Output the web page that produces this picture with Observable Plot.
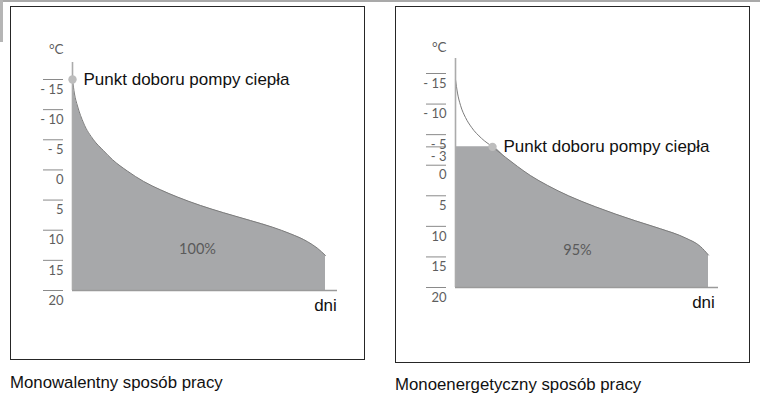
<!DOCTYPE html>
<html>
<head>
<meta charset="utf-8">
<script src="https://cdn.jsdelivr.net/npm/d3@7"></script>
<script src="https://cdn.jsdelivr.net/npm/@observablehq/plot@0.6"></script>
<style>
  html, body { margin: 0; padding: 0; background: #fff; }
  #page { position: relative; width: 760px; height: 397px; overflow: hidden; background: #fff; }
  .box { position: absolute; border: 1.5px solid #262626; box-sizing: border-box; }
  .chart { position: absolute; }
  .caption { position: absolute; font-family: "Liberation Sans", Arial, sans-serif; font-size: 16.8px; color: #111; white-space: nowrap; }
  .topline { position: absolute; left: 0; top: 0; width: 760px; height: 2px; background: #a9a9a9; }
  .leftbar { position: absolute; left: 0; top: 0; width: 3px; height: 42px; background: #b5b5b5; }
</style>
</head>
<body>
<div id="page">
  <div class="topline"></div>
  <div class="leftbar"></div>
  <div class="box" style="left:10px; top:6px; width:355px; height:354px;"></div>
  <div class="box" style="left:395px; top:6px; width:355px; height:357px;"></div>
  <div id="c1" class="chart" style="left:10px; top:6px;"></div>
  <div id="c2" class="chart" style="left:395px; top:6px;"></div>
  <div id="cap1" class="caption" style="left:10px; top:373px;"></div>
  <div id="cap2" class="caption" style="left:395px; top:375px;"></div>
</div>
<script>
// ---- data ----
const leftTicks = [-15, -10, -5, 0, 5, 10, 15, 20];
const rightTicks = [-15, -10, -5, -3, 0, 5, 10, 15, 20];

// left panel: monovalent - annual temperature duration curve
const leftDays = [0, 2, 5, 11, 21, 31, 40, 55, 71, 88, 105, 128, 151, 178, 200, 218, 235, 245, 253];
const leftTemps = [-15, -12.6, -10.6, -7.8, -5.0, -3.2, -1.7, 0.2, 1.9, 3.3, 4.5, 5.9, 7.1, 8.4, 9.5, 10.6, 11.9, 13.0, 14.2];

// right panel: monoenergetic - heat pump covers the load down to -3 °C
const rightDays = [0, 2, 5, 10, 16, 26, 37, 50, 62, 75, 92, 113, 140, 180, 205, 230, 245, 253];
const rightTemps = [-14.0, -11.8, -9.8, -7.8, -6.2, -4.4, -3.0, -1.3, 0.2, 1.7, 3.3, 5.0, 6.8, 9.1, 10.4, 11.9, 13.3, 14.7];
const bivalentTemp = -3;
const bivalentDay = 37;

const pointLabel = "Punkt doboru pompy ciepła";
const shares = ["100%", "95%"];
const xLabel = "dni";
const yLabel = "°C";
const captions = ["Monowalentny sposób pracy", "Monoenergetyczny sposób pracy"];

document.getElementById("cap1").textContent = captions[0];
document.getElementById("cap2").textContent = captions[1];

const fmt = d => d < 0 ? "- " + Math.abs(d) : String(d);
const tickFont = "Lato, 'Open Sans', sans-serif";
const labelFont = "'Liberation Sans', Arial, sans-serif";

function panel(opts) {
  const {days, temps, clip, ticks, width, height, marginLeft, marginRight, marginTop, marginBottom,
         axisTopInset, degDy, point, share, shareAt, dniDay, xMax} = opts;
  const rows = days.map((d, i) => ({day: d, t: temps[i], top: clip == null ? temps[i] : Math.max(temps[i], clip)}));
  return Plot.plot({
    width, height, marginLeft, marginRight, marginTop, marginBottom,
    x: {domain: [0, xMax], axis: null},
    y: {domain: [-15, 20], reverse: true, axis: null},
    style: {overflow: "visible", background: "transparent", fontFamily: tickFont},
    marks: [
      Plot.areaY(rows, {x: "day", y1: 20, y2: "top", fill: "#a7a8aa", curve: "monotone-x"}),
      Plot.line(rows, {x: "day", y: "t", stroke: "#7c7c7c", strokeWidth: 1, curve: "monotone-x"}),
      Plot.ruleX([0], {y1: -15, y2: 20, insetTop: axisTopInset, stroke: "#ababab", strokeWidth: 1.6}),
      Plot.ruleY([20], {x1: 0, x2: xMax, stroke: "#9a9a9a", strokeWidth: 1.5}),
      Plot.ruleY(ticks, {y: d => d, x1: 0, x2: 0, insetLeft: -29, insetRight: 9, stroke: "#8a8a8a", strokeWidth: 1}),
      Plot.text(ticks, {y: d => d, x: 0, text: fmt, dx: -9, dy: 10, textAnchor: "end", fontSize: 13, fill: "#5e5e5e", fontFamily: tickFont}),
      Plot.text([yLabel], {x: 0, y: -15, text: d => d, dx: -9, dy: degDy, textAnchor: "end", fontSize: 13.5, fill: "#5e5e5e", fontFamily: tickFont}),
      Plot.dot([point], {x: "day", y: "t", r: 4.2, fill: "#bdbdbd", stroke: "none"}),
      Plot.text([point], {x: "day", y: "t", text: () => pointLabel, dx: 11, textAnchor: "start", fontSize: 17, fill: "#111", fontFamily: labelFont}),
      Plot.text([share], {x: shareAt[0], y: shareAt[1], text: d => d, fontSize: 14.5, fill: "#5a5a5a", fontFamily: tickFont}),
      Plot.text([xLabel], {x: dniDay, y: 20, text: d => d, dy: 15, fontSize: 17, fill: "#111", fontFamily: labelFont})
    ]
  });
}

document.getElementById("c1").append(panel({
  days: leftDays, temps: leftTemps, clip: null, ticks: leftTicks,
  width: 355, height: 354, marginLeft: 62, marginRight: 28, marginTop: 73, marginBottom: 70,
  axisTopInset: -17, degDy: -30, point: {day: 0, t: -15},
  share: shares[0], shareAt: [125, 13.2], dniDay: 253, xMax: 265
}));

document.getElementById("c2").append(panel({
  days: rightDays, temps: rightTemps, clip: bivalentTemp, ticks: rightTicks,
  width: 355, height: 357, marginLeft: 60, marginRight: 32, marginTop: 67, marginBottom: 76,
  axisTopInset: -15, degDy: -26, point: {day: bivalentDay, t: bivalentTemp},
  share: shares[1], shareAt: [122, 13.9], dniDay: 248, xMax: 263
}));
</script>
</body>
</html>
